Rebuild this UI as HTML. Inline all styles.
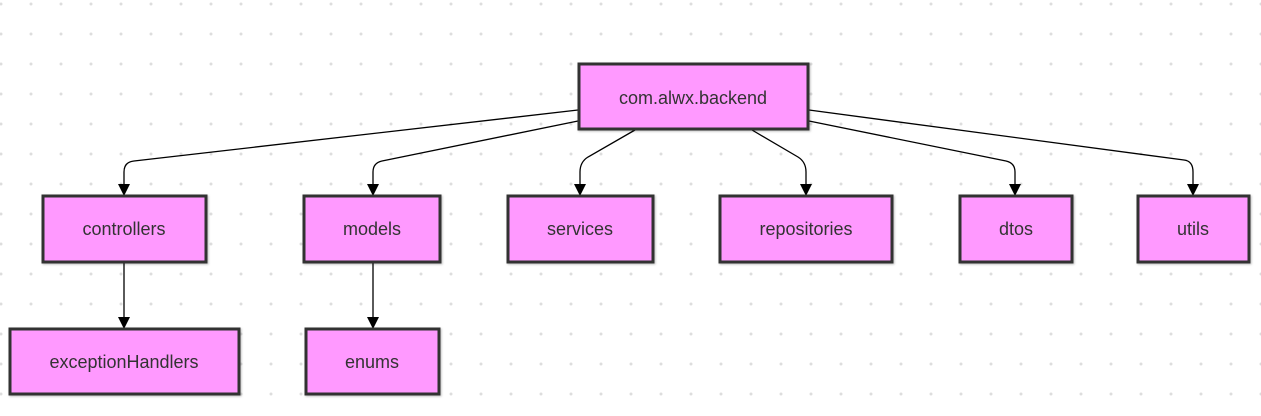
<!DOCTYPE html>
<html><head><meta charset="utf-8"><style>
html,body{margin:0;padding:0;background:#fff;}
svg{display:block;}
text{font-family:"Liberation Sans",Arial,sans-serif;font-size:18px;fill:#333;}
</style></head><body>
<svg width="1261" height="416" viewBox="0 0 1261 416" xmlns="http://www.w3.org/2000/svg">
<defs>
<pattern id="dots" x="1" y="4" width="30" height="30" patternUnits="userSpaceOnUse">
<circle cx="0" cy="0" r="1.5" fill="#ddd"/><circle cx="30" cy="0" r="1.5" fill="#ddd"/><circle cx="0" cy="30" r="1.5" fill="#ddd"/><circle cx="30" cy="30" r="1.5" fill="#ddd"/>
</pattern>
<marker id="ar" markerWidth="12" markerHeight="12" refX="10" refY="6" orient="auto" markerUnits="userSpaceOnUse"><path d="M0,0 L12,6 L0,12 z" fill="#000"/></marker>
<filter id="sh"><feDropShadow dx="1" dy="1" stdDeviation="1" flood-color="#000" flood-opacity="0.25"/></filter>
</defs>
<rect width="1261" height="416" fill="url(#dots)"/>
<g fill="none" stroke="#000" stroke-width="1.3" marker-end="url(#ar)">
<path d="M578,110 L134,161 Q124,162 124,172 L124,194"/>
<path d="M578,121 L382,161 Q373,163 373,172 L373,194"/>
<path d="M635,130 L588,157 Q580,162 580,172 L580,194"/>
<path d="M752,130 L798,157 Q806,162 806,172 L806,194"/>
<path d="M809,121 L1006,161 Q1015,163 1015,172 L1015,194"/>
<path d="M809,110 L1184,160 Q1193,161 1193,172 L1193,194"/>
<path d="M124,263 L124,327"/>
<path d="M373,263 L373,327"/>
</g>
<g fill="#ff99ff" stroke="#333" stroke-width="3" filter="url(#sh)">
<rect x="579" y="64" width="229" height="65"/>
<rect x="43" y="196" width="163" height="66"/>
<rect x="304" y="196" width="136" height="66"/>
<rect x="508" y="196" width="145" height="66"/>
<rect x="720" y="196" width="172" height="66"/>
<rect x="960" y="196" width="112" height="66"/>
<rect x="1138" y="196" width="111" height="66"/>
<rect x="10" y="329" width="229" height="65"/>
<rect x="306" y="329" width="133" height="65"/>
</g>
<g text-anchor="middle">
<text x="693" y="104">com.alwx.backend</text>
<text x="124" y="235">controllers</text>
<text x="372" y="235">models</text>
<text x="580" y="235">services</text>
<text x="806" y="235">repositories</text>
<text x="1016" y="235">dtos</text>
<text x="1193" y="235">utils</text>
<text x="124" y="368">exceptionHandlers</text>
<text x="372" y="368">enums</text>
</g>
</svg>
</body></html>
